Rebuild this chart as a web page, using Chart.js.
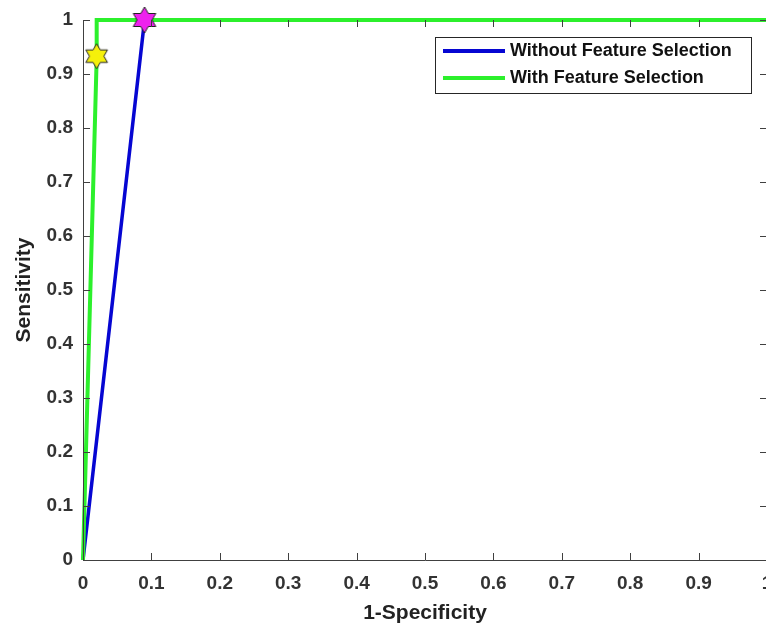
<!DOCTYPE html>
<html>
<head>
<meta charset="utf-8">
<script src="https://cdn.jsdelivr.net/npm/chart.js@4/dist/chart.umd.min.js"></script>
<style>
  html, body { margin: 0; padding: 0; background: #fff; overflow: hidden; }
  #wrap { width: 766px; height: 628px; overflow: hidden; }
</style>
</head>
<body>
<div id="wrap"><canvas id="roc" width="768" height="628"></canvas></div>
<script>
// ROC curves
const noSelX = [0, 0.09, 1];
const noSelY = [0, 1, 1];
const withSelX = [0, 0.02, 0.02, 1];
const withSelY = [0, 0.93, 1, 1];

// operating points (hexagram markers)
const noSelPoint = [0.09, 1.0];
const withSelPoint = [0.02, 0.933];

const tickValues = [0, 0.1, 0.2, 0.3, 0.4, 0.5, 0.6, 0.7, 0.8, 0.9, 1];
const seriesLabels = ['Without Feature Selection', 'With Feature Selection'];

const BLUE = '#0606d2';
const GREEN = '#2cf02c';
const AXIS = '#404040';
const TEXT = '#333333';
const FONT = "'Liberation Sans', Arial, sans-serif";

const toXY = (xs, ys) => xs.map((x, i) => ({ x: x, y: ys[i] }));

// six pointed star drawn on a small canvas, used as pointStyle
function hexagram(fill, r) {
    const c = document.createElement('canvas');
    const s = Math.ceil(r * 2 + 4);
    c.width = s;
    c.height = s;
    const g = c.getContext('2d');
    const cx = s / 2, cy = s / 2;
    const inner = r / Math.sqrt(3);
    g.beginPath();
    for (let i = 0; i < 12; i++) {
        const a = -Math.PI / 2 + i * Math.PI / 6;
        const rr = i % 2 === 0 ? r : inner;
        const px = cx + rr * Math.cos(a), py = cy + rr * Math.sin(a);
        if (i === 0) g.moveTo(px, py); else g.lineTo(px, py);
    }
    g.closePath();
    g.fillStyle = fill;
    g.fill();
    g.lineWidth = 1;
    g.strokeStyle = '#222';
    g.stroke();
    return c;
}

// box around the plot with inward ticks on all four sides
const boxPlugin = {
    id: 'box',
    afterDatasetsDraw(chart) {
        const { ctx, chartArea: a, scales } = chart;
        const len = 7;
        ctx.save();
        ctx.strokeStyle = AXIS;
        ctx.lineWidth = 1;
        ctx.beginPath();
        ctx.moveTo(a.left + 0.5, a.top);
        ctx.lineTo(a.left + 0.5, a.bottom + 0.5);
        ctx.lineTo(a.right, a.bottom + 0.5);
        ctx.moveTo(a.right - 0.5, a.top);
        ctx.lineTo(a.right - 0.5, a.bottom);
        tickValues.forEach(v => {
            const px = Math.round(scales.x.getPixelForValue(v)) + 0.5;
            const py = Math.round(scales.y.getPixelForValue(v)) + 0.5;
            ctx.moveTo(px, a.bottom);
            ctx.lineTo(px, a.bottom - len);
            ctx.moveTo(px, a.top);
            ctx.lineTo(px, a.top + len);
            ctx.moveTo(a.left, py);
            ctx.lineTo(a.left + len, py);
            ctx.moveTo(a.right, py);
            ctx.lineTo(a.right - len, py);
        });
        ctx.stroke();
        ctx.restore();
    },
    afterDraw(chart) {
        // legend inside the plot, top right
        const { ctx } = chart;
        const bx = 435, by = 37, bw = 316, bh = 56;
        ctx.save();
        ctx.fillStyle = '#fff';
        ctx.fillRect(bx, by, bw, bh);
        ctx.strokeStyle = '#262626';
        ctx.lineWidth = 1;
        ctx.strokeRect(bx + 0.5, by + 0.5, bw, bh);
        const colors = [BLUE, GREEN];
        ctx.font = 'bold 18px ' + FONT;
        ctx.textBaseline = 'middle';
        seriesLabels.forEach((lab, i) => {
            const y = by + 14 + i * 27;
            ctx.strokeStyle = colors[i];
            ctx.lineWidth = 4;
            ctx.beginPath();
            ctx.moveTo(bx + 8, y);
            ctx.lineTo(bx + 70, y);
            ctx.stroke();
            ctx.fillStyle = '#111';
            ctx.fillText(lab, bx + 75, y);
        });
        ctx.restore();
    }
};

new Chart(document.getElementById('roc'), {
    type: 'scatter',
    data: {
        datasets: [
            {
                label: 'marker1',
                data: [{ x: withSelPoint[0], y: withSelPoint[1] }],
                pointStyle: hexagram('#f5f00a', 12.5),
                pointRadius: 12,
                order: 0
            },
            {
                label: 'marker2',
                data: [{ x: noSelPoint[0], y: noSelPoint[1] }],
                pointStyle: hexagram('#ee22ee', 13),
                pointRadius: 12,
                order: 0
            },
            {
                label: seriesLabels[1],
                data: toXY(withSelX, withSelY),
                showLine: true,
                borderColor: GREEN,
                borderWidth: 4,
                pointRadius: 0,
                order: 1
            },
            {
                label: seriesLabels[0],
                data: toXY(noSelX, noSelY),
                showLine: true,
                borderColor: BLUE,
                borderWidth: 3.5,
                pointRadius: 0,
                order: 2
            }
        ]
    },
    options: {
        responsive: false,
        animation: false,
        clip: false,
        layout: { autoPadding: false, padding: { left: 0, right: 1, top: 20, bottom: 0 } },
        plugins: {
            legend: { display: false },
            tooltip: { enabled: false }
        },
        scales: {
            x: {
                type: 'linear',
                min: 0,
                max: 1,
                grid: { display: false, drawTicks: false },
                border: { display: false },
                afterBuildTicks: s => { s.ticks = tickValues.map(v => ({ value: v })); },
                afterFit: s => { s.height = 68; s.paddingLeft = 0; s.paddingRight = 0; },
                ticks: {
                    autoSkip: false,
                    maxRotation: 0,
                    padding: 12,
                    color: TEXT,
                    font: { family: FONT, size: 19, weight: 'bold' },
                    callback: v => String(Math.round(v * 10) / 10)
                },
                title: {
                    display: true,
                    text: '1-Specificity',
                    color: '#222',
                    padding: { top: 0, bottom: 2 },
                    font: { family: FONT, size: 21, weight: 'bold' }
                }
            },
            y: {
                type: 'linear',
                min: 0,
                max: 1,
                grid: { display: false, drawTicks: false },
                border: { display: false },
                afterBuildTicks: s => { s.ticks = tickValues.map(v => ({ value: v })); },
                afterFit: s => { s.width = 83; s.paddingTop = 0; s.paddingBottom = 0; },
                ticks: {
                    autoSkip: false,
                    padding: 10,
                    color: TEXT,
                    font: { family: FONT, size: 19, weight: 'bold' },
                    callback: v => String(Math.round(v * 10) / 10)
                },
                title: {
                    display: true,
                    text: 'Sensitivity',
                    color: '#222',
                    padding: { top: 12, bottom: 0 },
                    font: { family: FONT, size: 21, weight: 'bold' }
                }
            }
        }
    },
    plugins: [boxPlugin]
});
</script>
</body>
</html>
